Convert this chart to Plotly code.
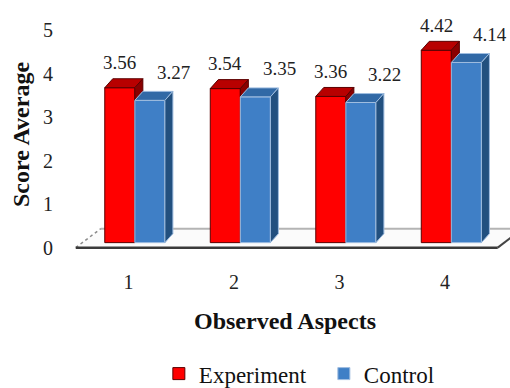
import plotly.graph_objects as go

# ---- data ----
categories = [1, 2, 3, 4]
tick_labels = ["1", "2", "3", "4"]
experiment = [3.56, 3.54, 3.36, 4.42]
control = [3.27, 3.35, 3.22, 4.14]
series_names = ["Experiment", "Control"]
y_ticks = [0, 1, 2, 3, 4, 5]

# ---- style constants (3D look) ----
BASE = 0.115      # bars sit slightly behind the floor's front edge
W = 0.285         # bar width (x units)
OFF_E = -0.225    # offset of experiment bar from category centre
OFF_C = OFF_E + W
DX = 0.076        # depth shift in x units
DY = 0.206        # depth shift in y units
FONT = "Liberation Serif, Times New Roman, serif"

RED, RED_TOP, RED_SIDE, RED_EDGE = "#FF0000", "#B80000", "#8A0000", "#5a0000"
BLUE, BLUE_TOP, BLUE_SIDE, BLUE_EDGE = "#3F7FC6", "#3169A6", "#22507F", "#9fbde0"

fig = go.Figure()

fig.add_trace(go.Bar(name=series_names[0], x=categories, y=experiment, base=BASE,
                     width=W, offset=OFF_E,
                     marker=dict(color=RED, line=dict(color=RED_EDGE, width=1)),
                     hoverinfo="skip"))
fig.add_trace(go.Bar(name=series_names[1], x=categories, y=control, base=BASE,
                     width=W, offset=OFF_C,
                     marker=dict(color=BLUE, line=dict(color=BLUE_EDGE, width=1)),
                     hoverinfo="skip"))


def poly(xs, ys, fill, edge):
    fig.add_trace(go.Scatter(x=xs + [xs[0]], y=ys + [ys[0]], mode="lines",
                             fill="toself", fillcolor=fill,
                             line=dict(color=edge, width=1),
                             showlegend=False, hoverinfo="skip"))


for c, e, k in zip(categories, experiment, control):
    xe0 = c + OFF_E
    xe1 = xe0 + W
    xc0 = c + OFF_C
    xc1 = xc0 + W
    te = e + BASE
    tc = k + BASE
    # experiment top face
    poly([xe0, xe1, xe1 + DX, xe0 + DX], [te, te, te + DY, te + DY], RED_TOP, RED_EDGE)
    # experiment side face (visible part above the control bar)
    low = min(tc, te)
    poly([xe1, xe1 + DX, xe1 + DX, xe1], [low, low + DY, te + DY, te], RED_SIDE, RED_EDGE)
    # control top face
    poly([xc0, xc1, xc1 + DX, xc0 + DX], [tc, tc, tc + DY, tc + DY], BLUE_TOP, BLUE_EDGE)
    # control side face
    poly([xc1, xc1 + DX, xc1 + DX, xc1], [BASE, BASE + DY, tc + DY, tc], BLUE_SIDE, BLUE_EDGE)

# value labels
for c, e, k in zip(categories, experiment, control):
    fig.add_annotation(x=c + OFF_E + W / 2, y=e + BASE, text=f"{e:.2f}", showarrow=False,
                       yshift=25, font=dict(family=FONT, size=19, color="#222"))
    fig.add_annotation(x=c + OFF_C + W / 2, y=k + BASE, text=f"{k:.2f}", showarrow=False,
                       yshift=28, xshift=24, font=dict(family=FONT, size=19, color="#222"))

# floor (decorative)
FX0, FX1 = categories[0] - 0.5, categories[-1] + 0.5
FDX, FDY = 0.237, 0.436
shapes = [
    dict(type="path", xref="x", yref="y", layer="below",
         path=f"M {FX0},0 L {FX1},0 L {FX1 + FDX},{FDY} L {FX0 + FDX},{FDY} Z",
         fillcolor="#fbfbfb", line=dict(width=0)),
    dict(type="line", xref="x", yref="y", layer="below", x0=FX0 + FDX, y0=FDY,
         x1=FX1 + FDX, y1=FDY, line=dict(color="#b4b4b4", width=2)),
    dict(type="line", xref="x", yref="y", layer="below", x0=FX0, y0=0,
         x1=FX0 + FDX, y1=FDY, line=dict(color="#8a8a8a", width=1.5, dash="dot")),
    dict(type="line", xref="x", yref="y", layer="below", x0=FX0, y0=0,
         x1=FX1, y1=0, line=dict(color="#3a3a3a", width=2.5)),
    dict(type="line", xref="x", yref="y", layer="below", x0=FX1, y0=0,
         x1=FX1 + FDX, y1=FDY, line=dict(color="#444", width=2)),
]

fig.update_layout(
    width=510, height=388,
    margin=dict(l=60, r=0, t=17, b=136),
    paper_bgcolor="white", plot_bgcolor="white",
    barmode="overlay",
    shapes=shapes,
    font=dict(family=FONT, color="#222"),
    xaxis=dict(range=[0.3507, 4.616], tickvals=categories, ticktext=tick_labels,
               showgrid=False, zeroline=False, showline=False, ticks="",
               ticklabelstandoff=16,
               tickfont=dict(family=FONT, size=20, color="#222"),
               title=dict(text="<b>Observed Aspects</b>", standoff=20,
                          font=dict(family=FONT, size=24, color="#111"))),
    yaxis=dict(range=[-0.1, 5.3], tickvals=y_ticks, showgrid=False, zeroline=False,
               showline=False, ticks="", ticklabelstandoff=6,
               tickfont=dict(family=FONT, size=20, color="#222"),
               title=dict(text="<b>Score Average</b>", standoff=6,
                          font=dict(family=FONT, size=24, color="#111"))),
    legend=dict(orientation="h", xref="container", yref="container",
                x=0.635, y=0.037, xanchor="center", yanchor="middle",
                font=dict(family=FONT, size=23, color="#111"),
                itemwidth=30, entrywidth=120, traceorder="normal"),
)

fig.write_html("out.html", config={"displayModeBar": False},
               post_script="document.body.style.margin='0';document.body.style.overflow='hidden';")
